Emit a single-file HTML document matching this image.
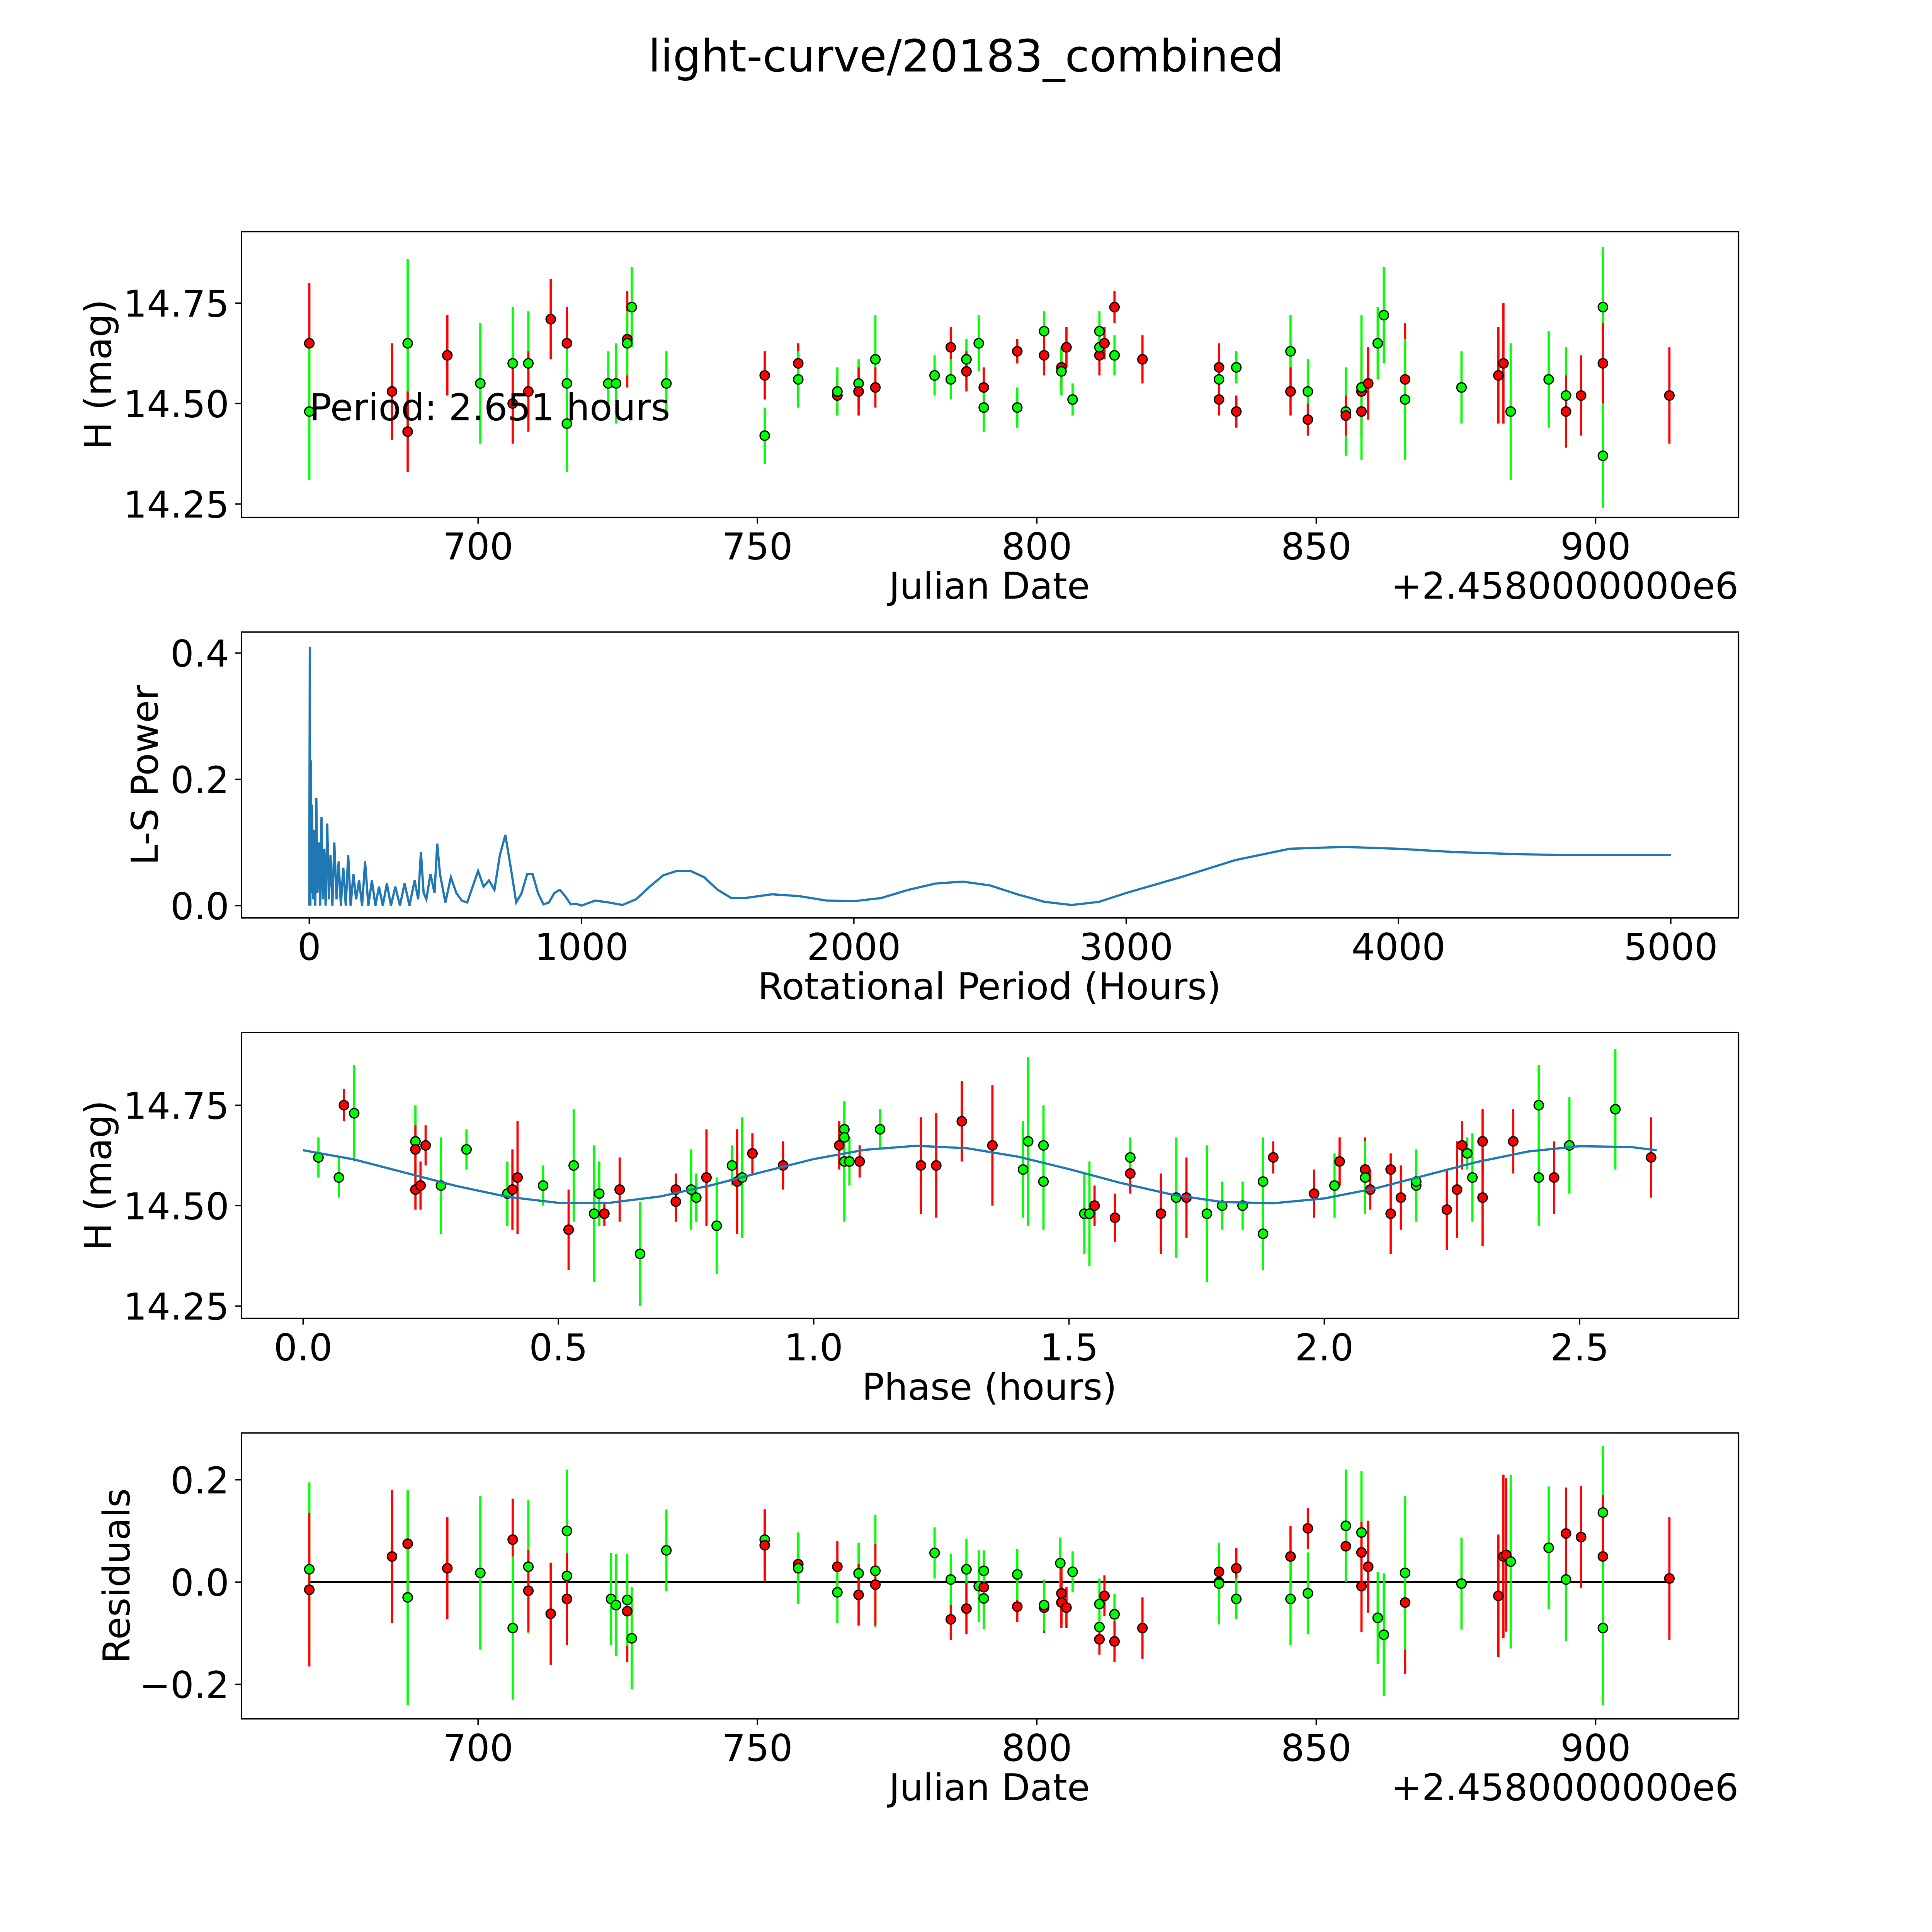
<!DOCTYPE html>
<html><head><meta charset="utf-8"><style>
html,body{margin:0;padding:0;background:#fff;overflow:hidden;width:100vw;height:100vh}
svg{display:block;position:absolute;left:0;top:0;width:100vw;height:100vh}
text{font-family:"DejaVu Sans","Liberation Sans",sans-serif;fill:#000}
</style></head><body>
<svg id="fig" viewBox="0 0 1568 1568" preserveAspectRatio="none" xmlns="http://www.w3.org/2000/svg">
<text x="784" y="58" font-size="36" text-anchor="middle">light-curve/20183_combined</text>
</svg>
<script>
// ---- Panel 1: light curve (JD offset, mag, err, filter color) ----
const lcJd  = [669.8,669.8,684.6,687.4,687.4,694.5,700.4,706.2,706.2,709,709,713,715.9,715.9,715.9,723.3,724.7,726.7,726.7,727.5,733.7,751.3,751.3,757.3,757.3,764.3,764.3,768.1,768.1,771.1,771.1,781.7,784.6,784.6,787.4,787.4,789.6,790.5,790.5,796.5,796.5,801.3,801.3,804.4,804.4,805.3,806.4,811.2,811.2,811.2,812.1,813.9,813.9,818.9,832.6,832.6,832.6,835.7,835.7,845.4,845.4,848.5,848.5,855.3,855.3,858.1,858.1,858.1,859.3,861,862.1,865.9,865.9,876,882.6,883.5,884.8,891.6,894.7,894.7,897.4,901.3,901.3,901.3,913.2];
const lcMag = [14.65,14.48,14.53,14.65,14.43,14.62,14.55,14.60,14.50,14.60,14.53,14.71,14.65,14.55,14.45,14.55,14.55,14.66,14.65,14.74,14.55,14.57,14.42,14.60,14.56,14.52,14.53,14.55,14.53,14.61,14.54,14.57,14.64,14.56,14.61,14.58,14.65,14.54,14.49,14.63,14.49,14.68,14.62,14.59,14.58,14.64,14.51,14.68,14.62,14.64,14.65,14.74,14.62,14.61,14.56,14.59,14.51,14.59,14.48,14.63,14.53,14.53,14.46,14.48,14.47,14.53,14.48,14.54,14.55,14.65,14.72,14.56,14.51,14.54,14.57,14.60,14.48,14.56,14.52,14.48,14.52,14.74,14.60,14.37,14.52];
const lcErr = [0.15,0.17,0.12,0.21,0.1,0.1,0.15,0.14,0.1,0.13,0.1,0.1,0.09,0.1,0.12,0.08,0.1,0.12,0.08,0.1,0.08,0.06,0.07,0.05,0.07,0.05,0.06,0.06,0.06,0.11,0.05,0.05,0.05,0.05,0.05,0.05,0.07,0.05,0.06,0.03,0.05,0.05,0.05,0.05,0.06,0.05,0.04,0.05,0.05,0.03,0.04,0.04,0.05,0.06,0.08,0.06,0.04,0.04,0.04,0.09,0.06,0.08,0.04,0.11,0.05,0.11,0.06,0.18,0.09,0.09,0.12,0.14,0.15,0.09,0.12,0.15,0.17,0.12,0.12,0.09,0.1,0.15,0.1,0.13,0.12];
const lcCol = ['r','g','r','g','r','r','g','g','r','g','r','r','r','g','g','g','g','r','g','g','g','r','g','r','g','r','g','g','r','g','r','g','r','g','g','r','g','r','g','r','g','g','r','r','g','r','g','g','r','g','r','r','g','r','g','r','r','g','r','g','r','g','r','g','r','r','r','g','r','g','g','r','g','g','r','r','g','g','g','r','r','g','r','g','r'];
// ---- Panel 2: periodogram ----
const lsPeriod = [0,2,4,6,8,10,14,18,22,26,30,35,40,45,50,55,60,66,72,78,85,92,100,108,116,125,134,143,152,162,172,183,194,205,217,230,243,256,270,285,300,316,333,350,368,387,400,410,420,430,445,460,470,480,500,520,540,560,580,600,620,640,660,680,700,720,740,760,780,800,820,840,860,880,900,920,940,960,980,1000,1050,1100,1150,1200,1250,1300,1350,1400,1450,1500,1550,1600,1700,1800,1900,2000,2100,2200,2300,2400,2500,2600,2700,2800,2900,3000,3200,3400,3600,3800,4000,4200,4400,4600,4800,5000];
const lsPower  = [0,0.41,0.0,0.23,0.02,0.16,0.01,0.12,0.0,0.17,0.02,0.10,0.0,0.14,0.01,0.09,0.0,0.13,0.01,0.08,0.0,0.10,0.01,0.07,0.0,0.06,0.0,0.08,0.0,0.05,0.01,0.04,0.0,0.07,0.0,0.04,0.0,0.03,0.0,0.035,0.0,0.03,0.0,0.035,0.0,0.04,0.01,0.085,0.02,0.01,0.05,0.02,0.098,0.05,0.005,0.045,0.02,0.008,0.005,0.03,0.055,0.03,0.04,0.025,0.08,0.112,0.06,0.005,0.02,0.05,0.05,0.02,0.002,0.005,0.02,0.025,0.015,0.002,0.003,0.0,0.008,0.005,0.001,0.01,0.03,0.048,0.055,0.055,0.045,0.025,0.012,0.012,0.018,0.015,0.008,0.007,0.012,0.025,0.035,0.038,0.032,0.018,0.006,0.001,0.006,0.02,0.045,0.072,0.09,0.093,0.09,0.085,0.082,0.08,0.08,0.08];
// ---- Panel 3: phased ----
const phX   = [0.03,0.08,0.10,0.07,0.22,0.22,0.22,0.23,0.24,0.27,0.32,0.40,0.41,0.42,0.47,0.52,0.53,0.57,0.58,0.59,0.62,0.66,0.73,0.73,0.76,0.77,0.79,0.81,0.84,0.85,0.86,0.88,0.94,1.05,1.06,1.06,1.06,1.07,1.09,1.13,1.21,1.24,1.29,1.35,1.41,1.42,1.45,1.45,1.53,1.54,1.55,1.59,1.62,1.62,1.68,1.71,1.73,1.77,1.80,1.84,1.88,1.88,1.90,1.98,2.02,2.03,2.08,2.08,2.09,2.13,2.13,2.15,2.18,2.18,2.24,2.26,2.27,2.28,2.29,2.31,2.31,2.37,2.42,2.42,2.45,2.48,2.57,2.64];
const phMag = [14.62,14.75,14.73,14.57,14.66,14.64,14.54,14.55,14.65,14.55,14.64,14.53,14.54,14.57,14.55,14.44,14.60,14.48,14.53,14.48,14.54,14.38,14.54,14.51,14.54,14.52,14.57,14.45,14.60,14.56,14.57,14.63,14.60,14.65,14.69,14.67,14.61,14.61,14.61,14.69,14.60,14.60,14.71,14.65,14.59,14.66,14.65,14.56,14.48,14.48,14.50,14.47,14.58,14.62,14.48,14.52,14.52,14.48,14.50,14.50,14.56,14.43,14.62,14.53,14.55,14.61,14.59,14.57,14.54,14.48,14.59,14.52,14.55,14.56,14.49,14.54,14.65,14.63,14.57,14.66,14.52,14.66,14.57,14.75,14.57,14.65,14.74,14.62];
const phErr = [0.05,0.04,0.12,0.05,0.09,0.06,0.05,0.06,0.05,0.12,0.05,0.08,0.1,0.14,0.05,0.1,0.14,0.17,0.08,0.03,0.08,0.13,0.04,0.05,0.1,0.06,0.12,0.12,0.05,0.13,0.15,0.05,0.06,0.06,0.05,0.06,0.15,0.06,0.04,0.05,0.12,0.13,0.1,0.15,0.12,0.21,0.1,0.12,0.1,0.13,0.05,0.06,0.05,0.05,0.1,0.15,0.1,0.17,0.06,0.06,0.11,0.09,0.04,0.06,0.08,0.06,0.08,0.09,0.05,0.1,0.04,0.08,0.09,0.06,0.1,0.12,0.06,0.04,0.11,0.08,0.12,0.08,0.12,0.1,0.09,0.12,0.15,0.1];
const phCol = ['g','r','g','g','g','r','r','r','r','g','g','g','r','r','g','r','g','g','g','r','r','g','r','r','g','g','r','g','g','r','g','r','r','r','g','g','g','g','r','g','r','r','r','r','g','g','g','g','g','g','r','r','r','g','r','g','r','g','g','g','g','g','r','r','g','r','r','g','r','r','r','r','g','g','r','r','r','g','g','r','r','r','g','g','r','g','g','r'];
const fitPhase = [0,0.1,0.2,0.3,0.4,0.5,0.6,0.7,0.8,0.9,1.0,1.1,1.2,1.3,1.4,1.5,1.6,1.7,1.8,1.9,2.0,2.1,2.2,2.3,2.4,2.5,2.6,2.651];
const fitMag = [14.638,14.615,14.582,14.549,14.522,14.507,14.507,14.523,14.551,14.584,14.616,14.639,14.649,14.643,14.622,14.591,14.557,14.528,14.509,14.506,14.518,14.543,14.576,14.609,14.635,14.648,14.646,14.638];
// ---- Panel 4: residuals ----
const rsJd  = [669.8,669.8,684.6,687.4,687.4,694.5,700.4,706.2,706.2,709,709,713,715.9,715.9,715.9,723.8,724.7,726.7,726.7,727.5,733.7,751.3,751.3,757.3,757.3,764.3,764.3,768.1,768.1,771.1,771.1,781.7,784.6,784.6,787.4,787.4,789.6,790.5,790.5,790.5,796.5,796.5,801.3,801.3,804.2,804.4,804.4,805.3,806.4,811.2,811.2,811.2,812.1,813.9,813.9,818.9,832.6,832.6,832.6,835.7,835.7,845.4,845.4,848.5,848.5,855.3,855.3,858.1,858.1,858.1,859.3,861,862.1,865.9,865.9,876,882.6,883.5,884,884.8,891.6,894.7,894.7,897.4,901.3,901.3,901.3,913.2];
const rsVal = [0.025,-0.015,0.05,0.075,-0.03,0.027,0.018,0.083,-0.09,0.03,-0.017,-0.062,0.10,0.012,-0.033,-0.033,-0.045,-0.057,-0.035,-0.11,0.062,0.083,0.072,0.035,0.027,0.03,-0.02,0.017,-0.025,0.022,-0.005,0.057,-0.073,0.005,0.025,-0.052,-0.008,-0.01,-0.032,0.022,-0.048,0.015,-0.05,-0.045,0.037,-0.022,-0.04,-0.05,0.02,-0.043,-0.088,-0.112,-0.027,-0.063,-0.116,-0.09,0.02,0.0,-0.003,0.027,-0.033,0.05,-0.033,0.105,-0.022,0.07,0.11,0.097,0.058,-0.008,0.03,-0.07,-0.103,-0.04,0.018,-0.003,-0.027,0.05,0.053,0.04,0.067,0.005,0.095,0.088,0.136,0.05,-0.09,0.007];
const rsErr = [0.17,0.15,0.13,0.1,0.21,0.1,0.15,0.08,0.14,0.13,0.08,0.1,0.12,0.1,0.09,0.09,0.1,0.1,0.09,0.1,0.08,0.06,0.07,0.06,0.07,0.05,0.06,0.06,0.06,0.11,0.08,0.05,0.04,0.05,0.06,0.05,0.07,0.05,0.06,0.04,0.03,0.05,0.05,0.05,0.05,0.06,0.05,0.04,0.04,0.05,0.05,0.03,0.04,0.04,0.04,0.06,0.05,0.06,0.08,0.04,0.04,0.06,0.09,0.04,0.08,0.05,0.11,0.12,0.06,0.09,0.09,0.09,0.12,0.14,0.15,0.09,0.12,0.16,0.15,0.17,0.12,0.12,0.09,0.1,0.13,0.12,0.15,0.12];
const rsCol = ['g','r','r','r','g','r','g','r','g','g','r','r','g','g','r','g','g','r','g','g','g','g','r','r','g','r','g','g','r','g','r','g','r','g','g','r','g','r','g','g','r','g','r','g','g','r','r','r','g','g','g','r','r','g','r','r','r','r','g','r','g','r','g','r','g','r','g','g','r','r','r','g','g','r','g','g','r','r','r','g','g','g','r','r','g','r','g','r'];

const NS='http://www.w3.org/2000/svg';
const svg=document.getElementById('fig');
function mk(tag,attrs,parent){const e=document.createElementNS(NS,tag);for(const k in attrs)e.setAttribute(k,attrs[k]);(parent||svg).appendChild(e);return e;}
const COL={r:'#ff0000',g:'#00ff00'};
const L=196,R=1411,FS=30;
function lin(d0,d1,p0,p1){return v=>p0+(v-d0)*(p1-p0)/(d1-d0);}

function axes(name,top,bot,fx,fy,xt,xl,yt,yl,xlabel,ylabel,ylabX){
  const g=mk('g',{});
  
  
  xt.forEach((v,i)=>{const x=fx(v);
    mk('line',{x1:x,x2:x,y1:bot,y2:bot+5,stroke:'#000','stroke-width':1.1},g);
    const t=mk('text',{x:x,y:bot+34,'font-size':FS,'text-anchor':'middle'},g);t.textContent=xl[i];
    
    });
  yt.forEach((v,i)=>{const y=fy(v);
    mk('line',{x1:L-5,x2:L,y1:y,y2:y,stroke:'#000','stroke-width':1.1},g);
    const t=mk('text',{x:L-10,y:y+11,'font-size':FS,'text-anchor':'end'},g);t.textContent=yl[i];
    
    });
  const xl2=mk('text',{x:803,y:bot+66,'font-size':FS,'text-anchor':'middle'},g);xl2.textContent=xlabel;
  
  
  const cy=(top+bot)/2;
  const yl2=mk('text',{x:ylabX,y:cy,'font-size':FS,'text-anchor':'middle',transform:`rotate(-90 ${ylabX} ${cy})`},g);yl2.textContent=ylabel;
  
  
  return g;
}
function frame(top,bot){const f=mk('rect',{x:L,y:top,width:R-L,height:bot-top,fill:'none',stroke:'#000','stroke-width':1.1});
  
  }
function points(xs,ys,es,cs,fx,fy,nm){
  const g=mk('g',{});
  
  
  xs.forEach((v,i)=>{const x=fx(v);
    const b=mk('line',{x1:x,x2:x,y1:fy(ys[i]-es[i]),y2:fy(ys[i]+es[i]),stroke:COL[cs[i]],'stroke-width':1.8},g);
    
    });
  xs.forEach((v,i)=>{
    const c=mk('circle',{cx:fx(v),cy:fy(ys[i]),r:3.8,fill:COL[cs[i]],stroke:'#000','stroke-width':1},g);
    
    });
}
function offsetText(bot){const t=mk('text',{x:R,y:bot+66,'font-size':FS,'text-anchor':'end'});t.textContent='+2.4580000000e6';
  
  }

const jdX=lin(700,900,388,1295);
// Panel 1
const p1y=lin(14.25,14.75,409,246);
axes('light-curve-axes',188,420,jdX,p1y,[700,750,800,850,900],['700','750','800','850','900'],[14.25,14.5,14.75],['14.25','14.50','14.75'],'Julian Date','H (mag)',90);
points(lcJd,lcMag,lcErr,lcCol,jdX,p1y,'light-curve-points');
const pt=mk('text',{x:251,y:341,'font-size':FS});pt.textContent='Period: 2.651 hours';


frame(188,420);offsetText(420);
// Panel 2
const p2x=lin(0,5000,251,1356),p2y=lin(0,0.4,735,530);
axes('periodogram-axes',513,745,p2x,p2y,[0,1000,2000,3000,4000,5000],['0','1000','2000','3000','4000','5000'],[0,0.2,0.4],['0.0','0.2','0.4'],'Rotational Period (Hours)','L-S Power',128);
const ls=mk('polyline',{points:lsPeriod.map((p,i)=>p2x(p)+','+p2y(lsPower[i])).join(' '),fill:'none',stroke:'#1f77b4','stroke-width':1.8});


frame(513,745);
// Panel 3
const p3x=lin(0,2.5,246,1282),p3y=lin(14.25,14.75,1060,897);
axes('phase-axes',838,1070,p3x,p3y,[0,0.5,1,1.5,2,2.5],['0.0','0.5','1.0','1.5','2.0','2.5'],[14.25,14.5,14.75],['14.25','14.50','14.75'],'Phase (hours)','H (mag)',90);
points(phX,phMag,phErr,phCol,p3x,p3y,'phase-points');
const fit=mk('polyline',{points:fitPhase.map((p,i)=>p3x(p)+','+p3y(fitMag[i])).join(' '),fill:'none',stroke:'#1f77b4','stroke-width':1.8});


frame(838,1070);
// Panel 4
const p4y=lin(-0.2,0.2,1367,1201);
axes('residuals-axes',1163,1395,jdX,p4y,[700,750,800,850,900],['700','750','800','850','900'],[-0.2,0,0.2],['\u22120.2','0.0','0.2'],'Julian Date','Residuals',105);
const zl=mk('line',{x1:jdX(669.8),x2:jdX(913.2),y1:p4y(0),y2:p4y(0),stroke:'#000','stroke-width':1.5});


points(rsJd,rsVal,rsErr,rsCol,jdX,p4y,'residual-points');
frame(1163,1395);offsetText(1395);
</script>
</body></html>
